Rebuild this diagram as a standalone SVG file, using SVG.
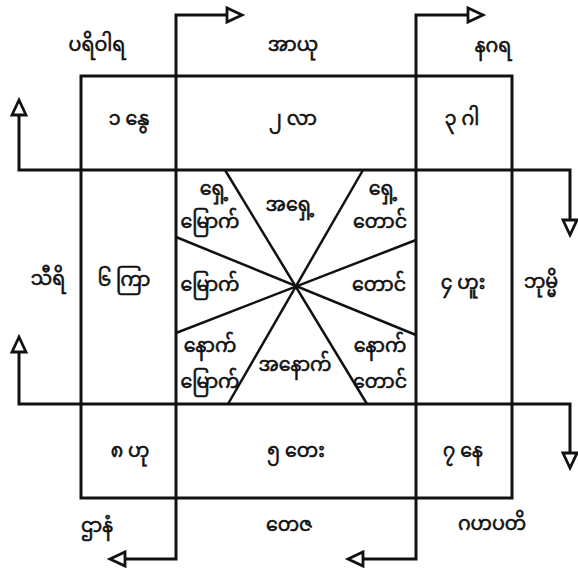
<svg xmlns="http://www.w3.org/2000/svg" width="578" height="571" viewBox="0 0 578 571">
<style>
.ln{stroke:#111;stroke-width:3;fill:none;stroke-linejoin:miter}
.thin{stroke:#111;stroke-width:2.5;fill:none}
.ah{fill:#fff;stroke:#111;stroke-width:2.8;stroke-linejoin:miter}
text{font-family:"Noto Sans Myanmar","Padauk","Myanmar Text","Noto Sans",sans-serif;font-size:19px;fill:#111;stroke:#111;stroke-width:0.6;text-anchor:middle;dominant-baseline:central}
</style>
<rect width="578" height="571" fill="#fff"/>
<g id="connectors">
<rect class="ln" x="81" y="76" width="431" height="422"/>
<polyline class="ln" points="240,15 176,15 176,559 112,559"/>
<polyline class="ln" points="481,15 416,15 416,559 350,559"/>
<polyline class="ln" points="19,102 19,170 570,170 570,233"/>
<polyline class="ln" points="19,339 19,404 570,404 570,466"/>
<line class="thin" x1="225" y1="170" x2="367" y2="404"/>
<line class="thin" x1="363" y1="170" x2="228" y2="404"/>
<line class="thin" x1="176" y1="237" x2="416" y2="335"/>
<line class="thin" x1="176" y1="333" x2="416" y2="240"/>
<polygon class="ah" points="242,15 227,8 227,22"/>
<polygon class="ah" points="483,15 468,8 468,22"/>
<polygon class="ah" points="19,100 12,115 26,115"/>
<polygon class="ah" points="19,337 12,352 26,352"/>
<polygon class="ah" points="570,235 563,220 577,220"/>
<polygon class="ah" points="570,468 563,453 577,453"/>
<polygon class="ah" points="110,559 125,552 125,566"/>
<polygon class="ah" points="348,559 363,552 363,566"/>
</g>
<g id="outer-labels">
<text x="97" y="46">ပရိဝါရ</text>
<text x="293" y="46">အာယု</text>
<text x="493" y="47">နဂရ</text>
<text x="48" y="280">သီရိ</text>
<text x="541" y="283">ဘုမ္မိ</text>
<text x="97" y="527">ဌာနံ</text>
<text x="289" y="526">တေဇ</text>
<text x="492" y="525">ဂဟပတိ</text>
</g>
<g id="house-1"><text x="129" y="120">၁ နွေ</text></g>
<g id="house-2"><text x="293" y="120">၂ လာ</text></g>
<g id="house-3"><text x="462" y="120">၃ ဂါ</text></g>
<g id="house-6"><text x="124" y="281">၆ ကြာ</text></g>
<g id="house-4"><text x="463" y="284">၄ ဟူး</text></g>
<g id="house-8"><text x="130" y="452">၈ ဟု</text></g>
<g id="house-5"><text x="296" y="452">၅ တေး</text></g>
<g id="house-7"><text x="463" y="452">၇ နေ</text></g>
<g id="center-labels">
<text x="214" y="190"><tspan x="214">ရှေ့</tspan><tspan x="210" dy="33">မြောက်</tspan></text>
<text x="290" y="206">အရှေ့</text>
<text x="383" y="190"><tspan x="383">ရှေ့</tspan><tspan x="380" dy="33">တောင်</tspan></text>
<text x="210" y="286">မြောက်</text>
<text x="379" y="286">တောင်</text>
<text x="210" y="347"><tspan x="210">နောက်</tspan><tspan x="210" dy="36">မြောက်</tspan></text>
<text x="295" y="366">အနောက်</text>
<text x="380" y="347"><tspan x="380">နောက်</tspan><tspan x="380" dy="36">တောင်</tspan></text>
</g>
</svg>
